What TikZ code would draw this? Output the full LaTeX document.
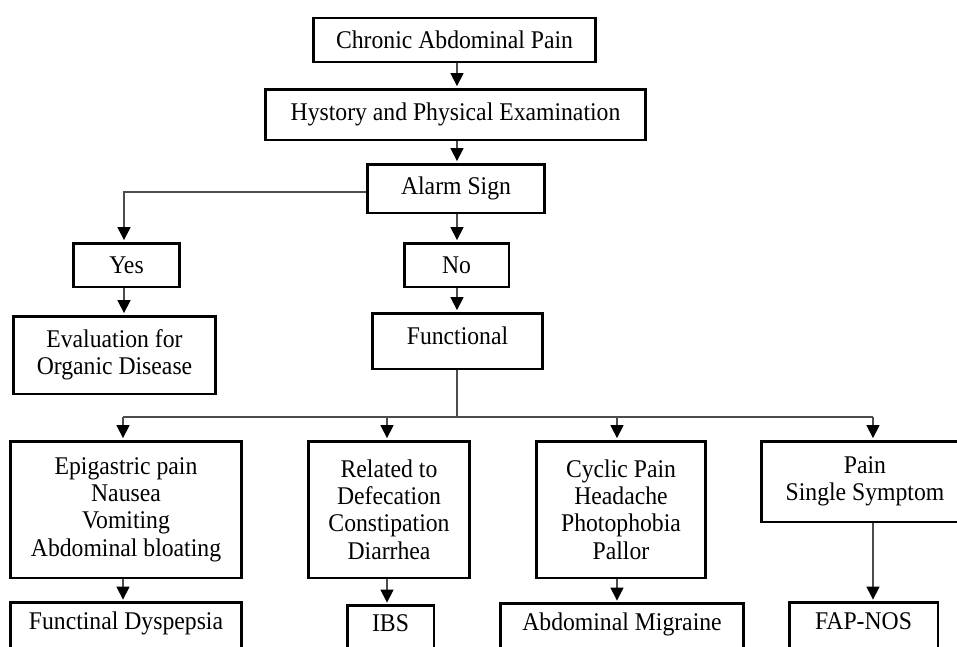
\documentclass[tikz,border=0pt]{standalone}
\usepackage{fontspec}
\setmainfont{Liberation Serif}[FakeStretch=0.93]
\usetikzlibrary{arrows.meta}
\tikzset{
  box/.style={draw=black, line width=1.7pt, align=center, inner sep=2pt,
    font=\fontsize{14.5}{15.6}\selectfont},
  lowbox/.style={box, anchor=north, text height=0.34cm, text depth=0.5cm,
    inner ysep=0.21cm},
  conn/.style={draw=black!70, line width=0.7pt},
  arr/.style={conn, -{Triangle[width=0.26cm,length=0.26cm,color=black]}, shorten >=0.8pt}
}
\begin{document}
\begin{tikzpicture}[x=0.02cm,y=-0.02cm]
\useasboundingbox (0,0) rectangle (957,646);
\clip (0,0) rectangle (957,646);
\fill[white] (0,0) rectangle (957,646);
% columns and rows
\coordinate (colA) at (124,0);
\coordinate (colM) at (457,0);
\coordinate (colB1) at (123,0);
\coordinate (colB2) at (387,0);
\coordinate (colB3) at (617,0);
\coordinate (colB4) at (873,0);
\coordinate (bus) at (0,417);
\coordinate (aly) at (0,192);
% nodes
\node[box, minimum width=5.66cm, minimum height=0.88cm] (chronic) at (454.5,40) {Chronic Abdominal Pain};
\node[box, minimum width=7.62cm, minimum height=1.02cm] (hyst) at (455.5,114.5) {Hystory and Physical Examination};
\node[box, minimum width=3.56cm, minimum height=0.98cm] (alarm) at (456,188.5) {Alarm Sign};
\node[box, minimum width=2.14cm, minimum height=0.88cm] (yes) at (126.5,265) {Yes};
\node[box, minimum width=2.10cm, minimum height=0.88cm] (no) at (456.5,265) {No};
\node[box, minimum width=4.06cm, minimum height=1.56cm] (eval) at (114.5,355) {Evaluation for\\Organic Disease};
\node[box, minimum width=3.42cm, minimum height=1.12cm, text depth=0.2cm] (func) at (457.5,341) {Functional};
\node[box, minimum width=4.64cm, minimum height=2.74cm] (b1) at (126,509.5) {Epigastric pain\\Nausea\\Vomiting\\Abdominal bloating};
\node[box, minimum width=3.24cm, minimum height=2.74cm] (b2) at (389,509.5) {Related to\\Defecation\\Constipation\\Diarrhea};
\node[box, minimum width=3.40cm, minimum height=2.74cm] (b3) at (621,509.5) {Cyclic Pain\\Headache\\Photophobia\\Pallor};
\node[box, minimum width=4.16cm, minimum height=1.62cm] (b4) at (865,481.5) {Pain\\Single Symptom};
\node[lowbox, minimum width=4.64cm] (fd) at (126,601) {Functinal Dyspepsia};
\node[lowbox, minimum width=1.74cm, inner ysep=0.18cm] (ibs) at (390.5,604) {IBS};
\node[lowbox, minimum width=4.88cm, inner ysep=0.2cm] (am) at (622,602) {Abdominal Migraine};
\node[lowbox, minimum width=2.98cm] (fap) at (863.5,601) {FAP-NOS};
% connectors
\draw[arr] (chronic.south -| colM) -- (hyst.north -| colM);
\draw[arr] (hyst.south -| colM) -- (alarm.north -| colM);
\draw[arr] (alarm.south -| colM) -- (no.north -| colM);
\draw[arr] (no.south -| colM) -- (func.north -| colM);
\draw[arr] (alarm.west |- aly) -| (yes.north -| colA);
\draw[arr] (yes.south -| colA) -- (eval.north -| colA);
\draw[conn] (func.south -| colM) -- (bus -| colM);
\draw[conn] (bus -| colB1) -- (bus -| colB4);
\draw[arr] (bus -| colB1) -- (b1.north -| colB1);
\draw[arr] (bus -| colB2) -- (b2.north -| colB2);
\draw[arr] (bus -| colB3) -- (b3.north -| colB3);
\draw[arr] (bus -| colB4) -- (b4.north -| colB4);
\draw[arr] (b1.south -| colB1) -- (fd.north -| colB1);
\draw[arr] (b2.south -| colB2) -- (ibs.north -| colB2);
\draw[arr] (b3.south -| colB3) -- (am.north -| colB3);
\draw[arr] (b4.south -| colB4) -- (fap.north -| colB4);
\end{tikzpicture}
\end{document}
